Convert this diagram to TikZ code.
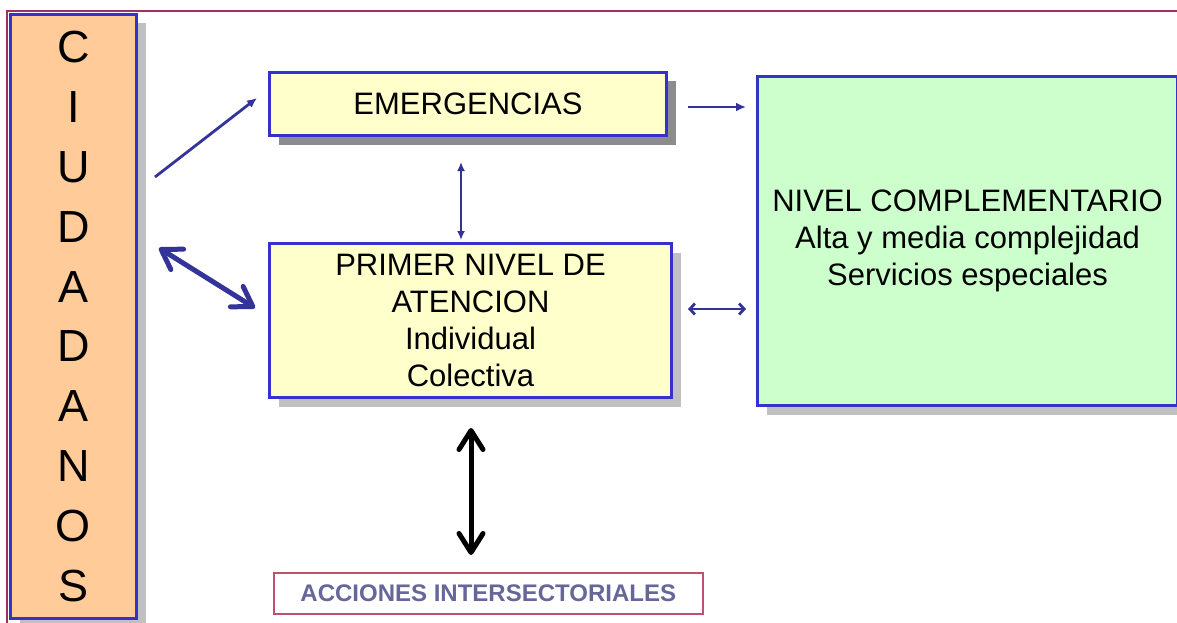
\documentclass[tikz,border=0pt]{standalone}
\usepackage{fontspec}
\setmainfont{Liberation Sans}
\usetikzlibrary{arrows.meta,shadows}
\definecolor{boxblue}{RGB}{51,51,204}
\definecolor{arrblue}{RGB}{51,51,153}
\definecolor{peach}{RGB}{255,204,153}
\definecolor{ltyellow}{RGB}{255,255,204}
\definecolor{ltgreen}{RGB}{204,255,204}
\definecolor{framecol}{RGB}{153,51,102}
\definecolor{shadowgray}{RGB}{192,192,192}
\definecolor{darkshadow}{RGB}{140,140,140}
\definecolor{acctext}{RGB}{102,102,153}
\definecolor{accborder}{RGB}{192,80,110}
\tikzset{
  mainbox/.style={draw=boxblue, line width=3pt, rectangle, inner sep=0pt, anchor=north west, align=center,
    drop shadow={shadow xshift=9pt, shadow yshift=-9pt, fill=shadowgray, opacity=1}},
  darkshad/.style={drop shadow={shadow xshift=9pt, shadow yshift=-9pt, fill=darkshadow, opacity=1}},
  thinarrow/.style={draw=arrblue, line width=2.8pt, -{Latex[length=10pt,width=9pt]}},
  thindouble/.style={draw=arrblue, line width=2.8pt, {Straight Barb[length=5pt,width=11pt]}-{Straight Barb[length=5pt,width=11pt]}},
  thindoublefill/.style={draw=arrblue, line width=2.8pt, {Latex[length=9pt,width=8pt]}-{Latex[length=9pt,width=8pt]}},
  thickdouble/.style={line width=5pt, line cap=round, {Straight Barb[length=19pt,width=24pt,round]}-{Straight Barb[length=19pt,width=24pt,round]}},
}
\begin{document}
\begin{tikzpicture}[x=1pt,y=-1pt]
\useasboundingbox (0,0) rectangle (1177,623);
% frame lines
\draw[framecol, line width=1.5pt] (7,623) -- (7,11) -- (1177,11);
% CIUDADANOS
\node[mainbox, fill=peach, minimum width=126pt, minimum height=604pt,
  font=\fontsize{45}{59.9}\selectfont] (ciu) at (9,13)
  {C\\I\\U\\D\\A\\D\\A\\N\\O\\S};
% EMERGENCIAS
\node[mainbox, darkshad, fill=ltyellow, minimum width=397pt, minimum height=63pt,
  font=\fontsize{31}{37}\selectfont] (emg) at (268,71) {EMERGENCIAS};
% PRIMER NIVEL
\node[mainbox, fill=ltyellow, minimum width=402pt, minimum height=154pt,
  font=\fontsize{31}{37.3}\selectfont] (pri) at (268,242)
  {PRIMER NIVEL DE\\ATENCION\\Individual\\Colectiva};
% NIVEL COMPLEMENTARIO
\node[mainbox, fill=ltgreen, minimum width=420pt, minimum height=329pt,
  font=\fontsize{31}{37}\selectfont] (niv) at (756,75)
  {NIVEL COMPLEMENTARIO\\Alta y media complejidad\\Servicios especiales};
% ACCIONES
\node[draw=accborder, line width=1.5pt, rectangle, inner sep=0pt, anchor=north west,
  minimum width=429pt, minimum height=41pt, text=acctext,
  font=\fontsize{24}{28}\selectfont\bfseries] (acc) at (273,572) {ACCIONES INTERSECTORIALES};
% connector end points
\coordinate (a1s) at (155,177);
\coordinate (a1e) at (257,98);
\coordinate (a2s) at (159,248);
\coordinate (a2e) at (255,308);
\coordinate (a3s) at (461,162);
\coordinate (a3e) at (461,240);
\coordinate (a4s) at (688,107);
\coordinate (a4e) at (746,107);
\coordinate (a5s) at (688,309);
\coordinate (a5e) at (746,309);
\coordinate (a6s) at (471,428);
\coordinate (a6e) at (471,555);
% connectors
\draw[thinarrow] (a1s) -- (a1e);
\draw[thickdouble, draw=arrblue] (a2s) -- (a2e);
\draw[thindoublefill] (a3s) -- (a3e);
\draw[thinarrow] (a4s) -- (a4e);
\draw[thindouble] (a5s) -- (a5e);
\draw[thickdouble, draw=black] (a6s) -- (a6e);
\end{tikzpicture}
\end{document}
